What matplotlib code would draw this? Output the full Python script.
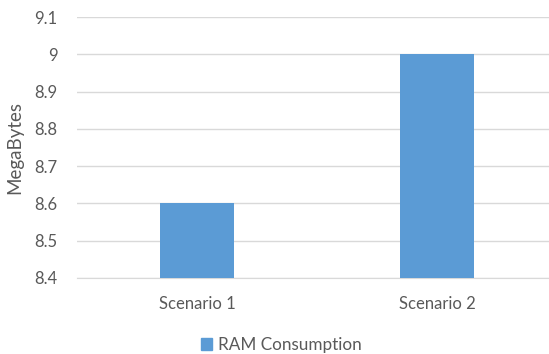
import matplotlib
matplotlib.use("Agg")
import matplotlib.pyplot as plt
from matplotlib.patches import Patch

# chart data
categories = ["Scenario 1", "Scenario 2"]
ram_mb = [8.6, 9.0]
series_name = "RAM Consumption"
y_ticks = [8.4, 8.5, 8.6, 8.7, 8.8, 8.9, 9.0, 9.1]
y_tick_labels = ["8.4", "8.5", "8.6", "8.7", "8.8", "8.9", "9", "9.1"]

bar_color = "#5B9BD5"
text_color = "#595959"
grid_color = "#D9D9D9"

plt.rcParams["font.family"] = ["Lato", "DejaVu Sans"]

fig = plt.figure(figsize=(5.49, 3.54), dpi=100)
ax = fig.add_axes([77 / 549, 76 / 354, 480 / 549, 261 / 354])

x = list(range(len(categories)))
ax.bar(x, [v - 8.4 for v in ram_mb], bottom=8.4, width=0.31, color=bar_color, zorder=3)

ax.set_xlim(-0.5, len(categories) - 0.5)
ax.set_ylim(8.4, 9.1)
ax.set_yticks(y_ticks)
ax.set_yticklabels(y_tick_labels)
ax.set_xticks(x)
ax.set_xticklabels(categories)
ax.yaxis.grid(True, color=grid_color, linewidth=1, zorder=0)

for s in ax.spines.values():
    s.set_visible(False)
ax.spines["bottom"].set_visible(True)
ax.spines["bottom"].set_color(grid_color)

ax.tick_params(axis="both", length=0, colors=text_color, labelsize=12)
ax.tick_params(axis="x", pad=13)
ax.tick_params(axis="y", pad=14)
ax.set_ylabel("MegaBytes", color=text_color, fontsize=13.5)
ax.yaxis.set_label_coords(-0.112, 0.5)

ax.legend(handles=[Patch(color=bar_color, label=series_name)],
          loc="center", bbox_to_anchor=(281 / 549, 9 / 354), bbox_transform=fig.transFigure,
          frameon=False, fontsize=12.3, labelcolor=text_color,
          handlelength=0.65, handleheight=0.65, handletextpad=0.35)

fig.savefig("out.png", dpi=100)
